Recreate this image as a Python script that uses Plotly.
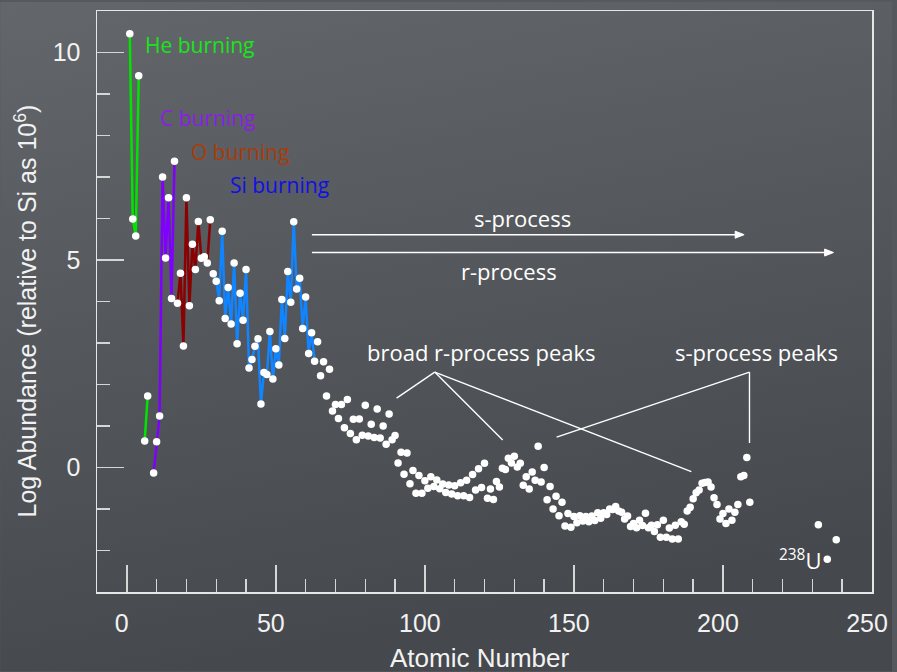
import base64
import plotly.graph_objects as go

# ---------------- data ----------------
mass_number = [1, 2, 3, 4, 6, 7, 9, 10, 11, 12, 13, 14, 15, 16, 17, 18, 19, 20,
               21, 22, 23, 24, 25, 26, 27, 28, 29, 30, 31, 32, 33, 34, 35, 36, 37, 38, 39, 40,
               41, 42, 43, 44, 45, 46, 47, 48, 49, 50, 51, 52, 53, 54, 55, 56, 57, 58, 59, 60,
               61, 62, 63, 64, 65, 66, 67, 68, 69, 70, 71, 72, 73, 74, 75, 76, 77, 78, 79, 80,
               81, 82, 83, 84, 85, 86, 87, 88, 89, 90, 91, 92, 93, 94, 95, 96, 97, 98, 99, 100,
               101, 102, 103, 104, 105, 106, 107, 108, 109, 110, 111, 112, 113, 114, 115, 116, 117, 118, 119, 120,
               121, 122, 123, 124, 125, 126, 127, 128, 129, 130, 131, 132, 133, 134, 135, 136, 137, 138, 139, 140,
               141, 142, 143, 144, 145, 146, 147, 148, 149, 150, 151, 152, 153, 154, 155, 156, 157, 158, 159, 160,
               161, 162, 163, 164, 165, 166, 167, 168, 169, 170, 171, 172, 173, 174, 175, 176, 177, 178, 179, 180,
               181, 182, 183, 184, 185, 186, 187, 188, 189, 190, 191, 192, 193, 194, 195, 196, 197, 198, 199, 200,
               201, 202, 203, 204, 205, 206, 207, 208, 209, 232, 235, 238]

log_abundance = [10.45, 5.99, 5.58, 9.44, 0.64, 1.72, -0.13, 0.62, 1.24, 7.00, 5.05, 6.50, 4.07, 7.38,
                 3.96, 4.68, 2.93, 6.50,
                 3.90, 5.38, 4.77, 5.93, 5.04, 5.08, 4.93, 5.97, 4.67, 4.49, 4.02, 5.69, 3.59, 4.34, 3.46, 4.93, 2.98, 4.20, 3.55, 4.77,
                 2.40, 2.60, 2.92, 3.10, 1.53, 2.29, 2.24, 3.28, 2.13, 2.86, 2.47, 4.05, 3.11, 4.72, 3.98, 5.92, 4.30, 4.56, 3.35, 4.11,
                 2.75, 3.25, 2.56, 3.03, 2.21, 2.55, 1.72, 2.37, 1.36, 1.52, 1.18, 1.52, 0.96, 1.64, 0.82, 1.16, 0.67, 1.17, 0.78, 1.50,
                 0.76, 1.04, 0.72, 1.41, 0.71, 1.00, 0.56, 1.29, 0.67, 0.77, 0.11, 0.37, -0.16, 0.35, -0.39, -0.07, -0.62, -0.19, -0.62, -0.32,
                 -0.50, -0.22, -0.46, -0.30, -0.51, -0.40, -0.60, -0.42, -0.64, -0.44, -0.68, -0.37, -0.68, -0.31, -0.72, -0.17, -0.54, -0.03, -0.48, 0.10,
                 -0.74, -0.52, -0.77, -0.34, -0.47, -0.02, -0.05, 0.22, 0.11, 0.27, 0.01, 0.10, -0.43, -0.22, -0.52, -0.11, -0.31, 0.51, -0.35, 0.00,
                 -0.78, -0.46, -1.00, -0.69, -1.16, -0.84, -1.41, -1.11, -1.44, -1.18, -1.33, -1.16, -1.29, -1.18, -1.31, -1.17, -1.28, -1.09, -1.22, -1.09,
                 -1.13, -1.00, -1.01, -0.94, -1.05, -1.08, -1.24, -1.17, -1.42, -1.35, -1.45, -1.27, -1.40, -1.10, -1.45, -1.39, -1.54, -1.38, -1.68, -1.27,
                 -1.68, -1.46, -1.72, -1.39, -1.72, -1.31, -1.37, -1.05, -0.96, -0.75, -0.61, -0.54, -0.38, -0.36, -0.35, -0.47, -0.73, -0.89, -1.24, -1.11,
                 -1.35, -1.00, -1.27, -1.08, -0.89, -0.22, -0.19, 0.24, -0.84, -1.38, -2.21, -1.74]

# burning-stage line segments: (first mass number, last mass number, colour)
burning_segments = [
    (1, 4, "#00e400"),
    (6, 7, "#00e400"),
    (9, 16, "#8000ff"),
    (17, 28, "#8b0000"),
    (29, 63, "#1184ff"),
]

# stage labels: (text, x, y, colour)
stage_labels = [
    ("He burning", 5.4, 10.17, "#19e619"),
    ("C burning", 10.4, 8.42, "#8a1ee6"),
    ("O burning", 20.8, 7.60, "#a83c0c"),
    ("Si burning", 33.8, 6.81, "#1010e6"),
]

# process arrows: (label, label x, label y, tail x, head x, arrow y)
process_arrows = [
    ("s-process", 132.8, 6.01, 62.1, 207.1, 5.61),
    ("r-process", 128.1, 4.74, 62.1, 237.1, 5.18),
]

# peak pointers: (label, label x, label y, apex x, apex y, [(end x, end y), ...])
peak_pointers = [
    ("broad r-process peaks", 118.9, 2.79, 103.3, 2.30, [(90.5, 1.67), (126.1, 0.66), (189.4, -0.10)]),
    ("s-process peaks", 211.1, 2.79, 208.9, 2.30, [(208.9, 0.59), (144.2, 0.73)]),
]

x_ticks = [0, 50, 100, 150, 200, 250]
x_minor = [v for v in range(10, 250, 10) if v % 50]
y_ticks = [0, 5, 10]
y_minor = [v for v in range(-2, 11) if v % 5]

# ---------------- figure ----------------
fig = go.Figure()

for first, last, color in burning_segments:
    xs = [a for a in mass_number if first <= a <= last]
    ys = [v for a, v in zip(mass_number, log_abundance) if first <= a <= last]
    fig.add_trace(go.Scatter(x=xs, y=ys, mode="lines",
                             line=dict(color=color, width=2.5),
                             hoverinfo="skip", showlegend=False))

fig.add_trace(go.Scatter(x=mass_number, y=log_abundance, mode="markers",
                         marker=dict(color="white", size=7.5, line=dict(width=0)),
                         showlegend=False))

comic = "Open Sans, DejaVu Sans, sans-serif"
annotations = []
shapes = []
for text, x, y, color in stage_labels:
    annotations.append(dict(x=x, y=y, xref="x", yref="y", text=text, showarrow=False,
                            xanchor="left", yanchor="middle",
                            font=dict(family=comic, size=21, color=color)))

head_len = 3.0    # arrowhead length in x units
head_half = 0.085  # arrowhead half-width in y units
for text, lx, ly, x0, x1, ay in process_arrows:
    annotations.append(dict(x=lx, y=ly, xref="x", yref="y", text=text, showarrow=False,
                            xanchor="center", yanchor="middle",
                            font=dict(family=comic, size=22, color="white")))
    shapes.append(dict(type="line", xref="x", yref="y", x0=x0, y0=ay, x1=x1 - head_len * 0.5, y1=ay,
                       line=dict(color="white", width=1.4)))
    shapes.append(dict(type="path", xref="x", yref="y",
                       path=f"M {x1},{ay} L {x1 - head_len},{ay + head_half} "
                            f"L {x1 - head_len},{ay - head_half} Z",
                       fillcolor="white", line=dict(color="white", width=1)))

for text, lx, ly, px, py, ends in peak_pointers:
    annotations.append(dict(x=lx, y=ly, xref="x", yref="y", text=text, showarrow=False,
                            xanchor="center", yanchor="middle",
                            font=dict(family=comic, size=22, color="white")))
    for ex, ey in ends:
        shapes.append(dict(type="line", xref="x", yref="y", x0=px, y0=py, x1=ex, y1=ey,
                           line=dict(color="white", width=1.4)))

annotations.append(dict(x=233.5, y=-2.22, xref="x", yref="y",
                        text="<sup>238</sup>U", showarrow=False,
                        xanchor="right", yanchor="middle",
                        font=dict(family=comic, size=22, color="white")))

label_font = "Liberation Sans, Arial, Helvetica, sans-serif"
annotations.append(dict(x=0.494, y=-0.113, xref="paper", yref="paper",
                        text="Atomic Number", showarrow=False,
                        xanchor="center", yanchor="middle",
                        font=dict(family=label_font, size=26, color="#f2f2f2")))
annotations.append(dict(x=-0.092, y=0.484, xref="paper", yref="paper",
                        text="Log Abundance (relative to Si as 10<sup>6</sup>)",
                        showarrow=False, textangle=-90,
                        xanchor="center", yanchor="middle",
                        font=dict(family=label_font, size=25, color="#f2f2f2")))

svg = ('<svg xmlns="http://www.w3.org/2000/svg" width="100" height="100" '
       'preserveAspectRatio="none"><defs><linearGradient id="g" x1="0" y1="0" x2="0.25" y2="1">'
       '<stop offset="0" stop-color="#63666a"/><stop offset="1" stop-color="#45484c"/>'
       '</linearGradient></defs><rect width="100" height="100" fill="url(#g)"/></svg>')
bg = "data:image/svg+xml;base64," + base64.b64encode(svg.encode()).decode()

axis_common = dict(showgrid=False, zeroline=False, showline=True, mirror=True,
                   linecolor="#e6e6e6", linewidth=1.5,
                   ticks="inside", ticklen=27, tickwidth=1.4, tickcolor="#d6d6d6",
                   tickfont=dict(family=label_font, size=25, color="#f2f2f2"))

fig.update_layout(
    width=897, height=672,
    margin=dict(l=97, r=20, t=9, b=80),
    paper_bgcolor="#55585c",
    plot_bgcolor="rgba(0,0,0,0)",
    showlegend=False,
    hovermode=False,
    annotations=annotations,
    shapes=shapes,
    images=[dict(source=bg, xref="paper", yref="paper", x=-0.125, y=1.016,
                 sizex=1.151, sizey=1.153, sizing="stretch", layer="below",
                 xanchor="left", yanchor="top")],
    xaxis=dict(range=[-10, 250], tickmode="array", tickvals=x_ticks,
               ticklabelstandoff=8, ticklabelshift=-5,
               minor=dict(tickmode="array", tickvals=x_minor, ticks="inside", ticklen=13,
                          tickwidth=1.4, tickcolor="#d6d6d6"),
               **axis_common),
    yaxis=dict(range=[-3, 11], tickmode="array", tickvals=y_ticks,
               ticklabelstandoff=10,
               minor=dict(tickmode="array", tickvals=y_minor, ticks="inside", ticklen=13,
                          tickwidth=1.4, tickcolor="#d6d6d6"),
               **axis_common),
)

fig.write_html("out.html",
               config={"displayModeBar": False, "staticPlot": True},
               post_script="document.body.style.margin='0';document.body.style.overflow='hidden';"
                           "document.body.style.background='#55585c';")
